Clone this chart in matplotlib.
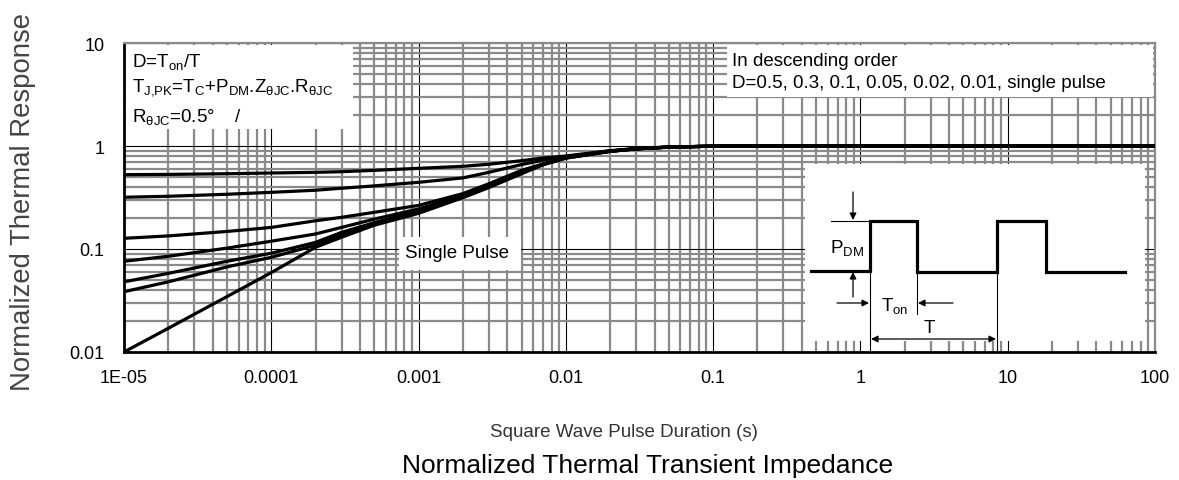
import matplotlib
matplotlib.use('Agg')
import matplotlib.pyplot as plt
from matplotlib.patches import Rectangle

# 字体：Arial 等宽的 Liberation Sans
plt.rcParams['font.family'] = ['Liberation Sans', 'DejaVu Sans']
plt.rcParams['mathtext.fontset'] = 'custom'
plt.rcParams['mathtext.rm'] = 'Liberation Sans'
plt.rcParams['mathtext.it'] = 'Liberation Sans:italic'
plt.rcParams['mathtext.bf'] = 'Liberation Sans:bold'

# 脉冲宽度 (s)
t_pulse = [1e-5, 2e-5, 5e-5, 1e-4, 2e-4, 3e-4, 5e-4, 1e-3, 2e-3, 3e-3, 5e-3,
           7e-3, 1e-2, 2e-2, 3e-2, 5e-2, 0.1, 0.2, 1, 10, 100]
# 各占空比下的归一化热阻抗
z_d05 = [0.527, 0.530, 0.538, 0.547, 0.555, 0.563, 0.580, 0.607, 0.635, 0.665, 0.720,
         0.765, 0.800, 0.900, 0.945, 0.978, 0.996, 1.0, 1.0, 1.0, 1.0]
z_d03 = [0.318, 0.325, 0.340, 0.355, 0.372, 0.389, 0.410, 0.444, 0.490, 0.555, 0.660,
         0.730, 0.790, 0.897, 0.943, 0.977, 0.996, 1.0, 1.0, 1.0, 1.0]
z_d01 = [0.127, 0.134, 0.148, 0.162, 0.188, 0.203, 0.227, 0.265, 0.345, 0.430, 0.580,
         0.670, 0.775, 0.893, 0.940, 0.976, 0.996, 1.0, 1.0, 1.0, 1.0]
z_d005 = [0.076, 0.085, 0.102, 0.119, 0.140, 0.162, 0.195, 0.245, 0.330, 0.412, 0.555,
          0.665, 0.770, 0.890, 0.939, 0.975, 0.996, 1.0, 1.0, 1.0, 1.0]
z_d002 = [0.048, 0.058, 0.076, 0.091, 0.116, 0.145, 0.180, 0.235, 0.325, 0.405, 0.548,
          0.662, 0.767, 0.889, 0.938, 0.975, 0.996, 1.0, 1.0, 1.0, 1.0]
z_d001 = [0.0385, 0.048, 0.067, 0.083, 0.109, 0.137, 0.175, 0.228, 0.320, 0.400, 0.543,
          0.660, 0.765, 0.888, 0.938, 0.975, 0.996, 1.0, 1.0, 1.0, 1.0]
z_single = [0.010, 0.017, 0.0345, 0.059, 0.104, 0.130, 0.170, 0.222, 0.315, 0.395, 0.538,
            0.658, 0.762, 0.887, 0.937, 0.974, 0.996, 1.0, 1.0, 1.0, 1.0]
curves = [z_d05, z_d03, z_d01, z_d005, z_d002, z_d001, z_single]

x_ticks = [1e-5, 1e-4, 1e-3, 1e-2, 1e-1, 1, 10, 100]
x_ticklabels = ['1E-05', '0.0001', '0.001', '0.01', '0.1', '1', '10', '100']
y_ticks = [0.01, 0.1, 1, 10]
y_ticklabels = ['0.01', '0.1', '1', '10']

W, H = 1179, 481
fig = plt.figure(figsize=(W / 100, H / 100), dpi=100)
ax = fig.add_axes([124 / W, (H - 353) / H, (1155 - 124) / W, (353 - 44) / H])

for z in curves:
    ax.plot(t_pulse, z, color='black', lw=2.3, solid_joinstyle='round', zorder=3)

ax.set_xscale('log')
ax.set_yscale('log')
ax.set_xlim(1e-5, 100)
ax.set_ylim(0.01, 10)
ax.set_xticks(x_ticks)
ax.set_xticklabels(x_ticklabels)
ax.set_yticks(y_ticks)
ax.set_yticklabels(y_ticklabels)
ax.grid(which='minor', color='#8a8a8a', lw=1.6)
ax.grid(which='major', color='black', lw=0.8)
ax.tick_params(which='both', length=0, labelsize=13)
ax.tick_params(axis='x', pad=12)
ax.tick_params(axis='y', pad=14)
ax.spines['left'].set_linewidth(2)
ax.spines['bottom'].set_linewidth(2)
ax.spines['top'].set_color('#8a8a8a')
ax.spines['right'].set_color('#8a8a8a')
ax.spines['top'].set_linewidth(1.6)
ax.spines['right'].set_linewidth(1.6)

# 覆盖层，使用像素坐标
ov = fig.add_axes([0, 0, 1, 1], zorder=5)
ov.set_xlim(0, W)
ov.set_ylim(H, 0)
ov.axis('off')
ov.patch.set_alpha(0)

def white_box(x0, y0, x1, y1):
    ov.add_patch(Rectangle((x0, y0), x1 - x0, y1 - y0, facecolor='white',
                           edgecolor='none'))

white_box(126, 46, 353, 130)
white_box(727, 46, 1153, 98)
white_box(399, 238, 521, 271)
white_box(805, 165, 1145, 342)

fs = 13.5
ov.text(132, 62, r'D=T$_{\mathregular{on}}$/T', fontsize=fs, va='center')
ov.text(132, 88, r'T$_{\mathregular{J{,}PK}}$=T$_{\mathregular{C}}$+P$_{\mathregular{DM}}$'
        r'.Z$_{\mathregular{θJC}}$.R$_{\mathregular{θJC}}$', fontsize=fs, va='center')
ov.text(132, 117, r'R$_{\mathregular{θJC}}$=0.5°    /', fontsize=fs, va='center')
ov.text(732, 62, 'In descending order', fontsize=fs, va='center')
ov.text(732, 83, 'D=0.5, 0.3, 0.1, 0.05, 0.02, 0.01, single pulse', fontsize=fs, va='center')
ov.text(405, 254, 'Single Pulse', fontsize=fs, va='center')

# 脉冲示意图
pulse_x = [811, 870, 870, 917, 917, 997, 997, 1046, 1046, 1125]
pulse_y = [272, 272, 222, 222, 273, 273, 222, 222, 273, 273]
ov.plot(pulse_x, pulse_y, color='black', lw=2.3, solid_joinstyle='miter')
ov.plot([831, 870], [222, 222], color='black', lw=0.8)
ov.plot([870, 870], [272, 353], color='black', lw=0.8)
ov.plot([917, 917], [273, 315], color='black', lw=0.8)
ov.plot([997, 997], [273, 353], color='black', lw=0.8)

arrow = dict(arrowstyle='-|>', color='black', lw=0.9, mutation_scale=10,
             shrinkA=0, shrinkB=0)
ov.annotate('', xy=(853, 221), xytext=(853, 193), arrowprops=arrow)
ov.annotate('', xy=(853, 273), xytext=(853, 298), arrowprops=arrow)
ov.annotate('', xy=(869, 304), xytext=(837, 304), arrowprops=arrow)
ov.annotate('', xy=(918, 304), xytext=(953, 304), arrowprops=arrow)
ov.annotate('', xy=(996, 340), xytext=(871, 340),
            arrowprops=dict(arrowstyle='<|-|>', color='black', lw=0.9,
                            mutation_scale=10, shrinkA=0, shrinkB=0))
ov.text(847, 248, r'P$_{\mathregular{DM}}$', fontsize=fs, ha='center', va='center')
ov.text(895, 306, r'T$_{\mathregular{on}}$', fontsize=fs, ha='center', va='center')
ov.text(929, 329, 'T', fontsize=fs, ha='center', va='center')

# 坐标轴标题
ov.text(624, 433, 'Square Wave Pulse Duration (s)', fontsize=13.5, color='#333333',
        ha='center', va='center')
ov.text(648, 466, 'Normalized Thermal Transient Impedance', fontsize=19,
        ha='center', va='center')
ov.text(23, 202, 'Normalized Thermal Response', fontsize=19.8, color='#444444',
        rotation=90, ha='center', va='center')

fig.savefig('out.png', dpi=100)
